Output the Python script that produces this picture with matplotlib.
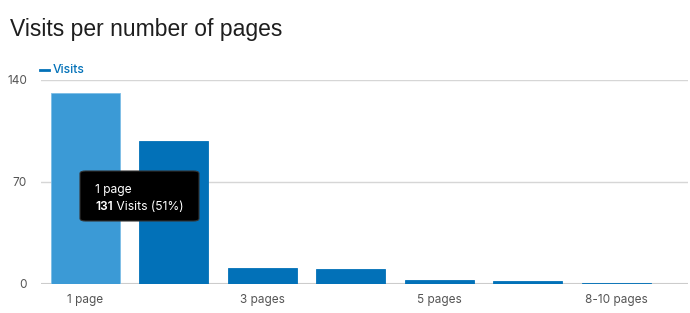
import matplotlib.pyplot as plt
from matplotlib.patches import FancyBboxPatch
from matplotlib.lines import Line2D

plt.rcParams['font.family'] = ['Inter', 'DejaVu Sans']

# data
categories = ["1 page", "2 pages", "3 pages", "4 pages", "5 pages", "6-7 pages", "8-10 pages"]
visits = [131, 98, 11, 10, 3, 2, 1]
tick_labels = ["1 page", "", "3 pages", "", "5 pages", "", "8-10 pages"]
y_ticks = [0, 70, 140]

blue = "#0271b8"
blue_hover = "#3b9ad6"

fig = plt.figure(figsize=(6.9, 3.13), dpi=100)
ax = fig.add_axes([41 / 690, 29 / 313, 647 / 690, 204 / 313])

x = list(range(len(categories)))
colors = [blue_hover] + [blue] * (len(categories) - 1)
edges = ["#7cbde6"] + [blue] * (len(categories) - 1)
ax.bar(x, visits, width=0.78, color=colors, edgecolor=edges, linewidth=0.6, zorder=3)

ax.set_xlim(-0.503, 6.81)
ax.set_ylim(0, 140)
ax.set_yticks(y_ticks)
ax.set_yticklabels([str(v) for v in y_ticks])
ax.set_xticks(x)
ax.set_xticklabels(tick_labels)
ax.tick_params(axis='both', length=0, colors="#555555", labelsize=8.5)
ax.tick_params(axis='y', pad=10)
ax.tick_params(axis='x', pad=7)
for s in ax.spines.values():
    s.set_visible(False)
ax.grid(axis='y', color="#d6d6d6", linewidth=1, zorder=0)
ax.axhline(0, color="#cccccc", linewidth=1.5, zorder=2)

# title
fig.text(10 / 690, 1 - 36 / 313, "Visits per number of pages", fontsize=16.5,
         color="#1e1e1e", family=['Liberation Sans', 'DejaVu Sans'])

# legend
fig.add_artist(Line2D([40 / 690, 49 / 690], [1 - 70 / 313] * 2, color=blue, linewidth=2))
fig.text(53 / 690, 1 - 70 / 313, "Visits", fontsize=8.7, color=blue, va='center', fontweight='medium')

# tooltip
box = FancyBboxPatch((80 / 690, 1 - 221 / 313), 119 / 690, 50 / 313,
                     boxstyle="round,pad=0,rounding_size=0.008",
                     transform=fig.transFigure, facecolor="black", edgecolor="#333333",
                     linewidth=0.8, zorder=10)
fig.add_artist(box)
fig.text(95 / 690, 1 - 193 / 313, "1 page", fontsize=8.7, color="white", zorder=11)
t = fig.text(95 / 690, 1 - 210 / 313, "131", fontsize=8.7, color="white", fontweight='semibold', zorder=11)
fig.add_artist(plt.Annotation(" Visits (51%)", xy=(1, 0), xycoords=t, va='bottom', ha='left',
                              fontsize=8.7, color="white", zorder=11))

fig.savefig("out.png", dpi=100)
